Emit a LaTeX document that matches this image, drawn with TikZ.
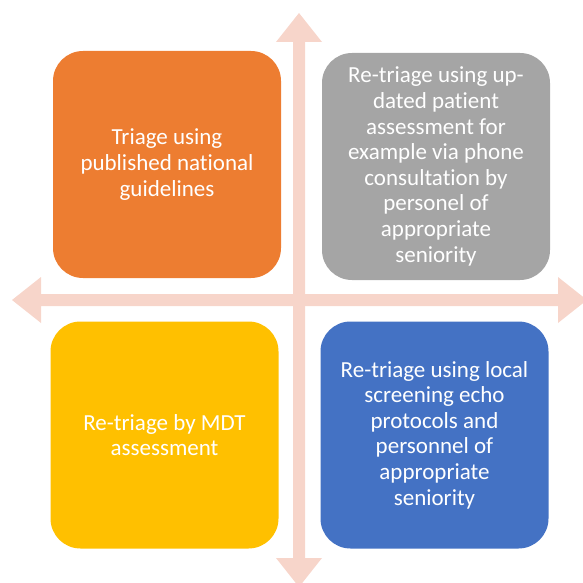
\documentclass[tikz,border=0pt]{standalone}
\usepackage{fontspec}
\setmainfont{Carlito}[Ligatures={NoCommon},RawFeature={-liga;-clig;-calt;-dlig}]
\usepackage{tikz}
\usetikzlibrary{positioning}

\definecolor{arrowpink}{HTML}{F7D5CA}
\definecolor{boxorange}{HTML}{ED7D31}
\definecolor{boxgray}{HTML}{A5A5A5}
\definecolor{boxyellow}{HTML}{FFC000}
\definecolor{boxblue}{HTML}{4472C4}

\begin{document}
\begin{tikzpicture}[x=1pt,y=-1pt,
        quad/.style={rectangle,rounded corners=30pt,minimum width=228pt,minimum height=227pt,
            align=center,text=white,font=\fontsize{23pt}{25.6pt}\selectfont}]
        \useasboundingbox (0,0) rectangle (583,583);
        % cross of double arrows
        \fill[arrowpink] (12,300) -- (41,277) -- (41,294) -- (558,294) -- (558,277) -- (587,300)
            -- (558,323) -- (558,306) -- (41,306) -- (41,323) -- cycle;
        \fill[arrowpink] (299,13) -- (322,42) -- (305,42) -- (305,558) -- (322,558) -- (299,587)
            -- (276,558) -- (293,558) -- (293,42) -- (276,42) -- cycle;
        % the four quadrants
        \node[quad,fill=boxorange] (triage) at (167,164.5) {Triage using\\published national\\guidelines};
        \node[quad,fill=boxgray] (phone) at (436,166.5) {Re-triage using up-\\dated patient\\assessment for\\example via phone\\consultation by\\personel of\\appropriate\\seniority};
        \node[quad,fill=boxyellow] (mdt) at (164.5,435) {Re-triage by MDT\\assessment};
        \node[quad,fill=boxblue] (echo) at (434.5,435) {Re-triage using local\\screening echo\\protocols and\\personnel of\\appropriate\\seniority};
    \end{tikzpicture}
\end{document}
